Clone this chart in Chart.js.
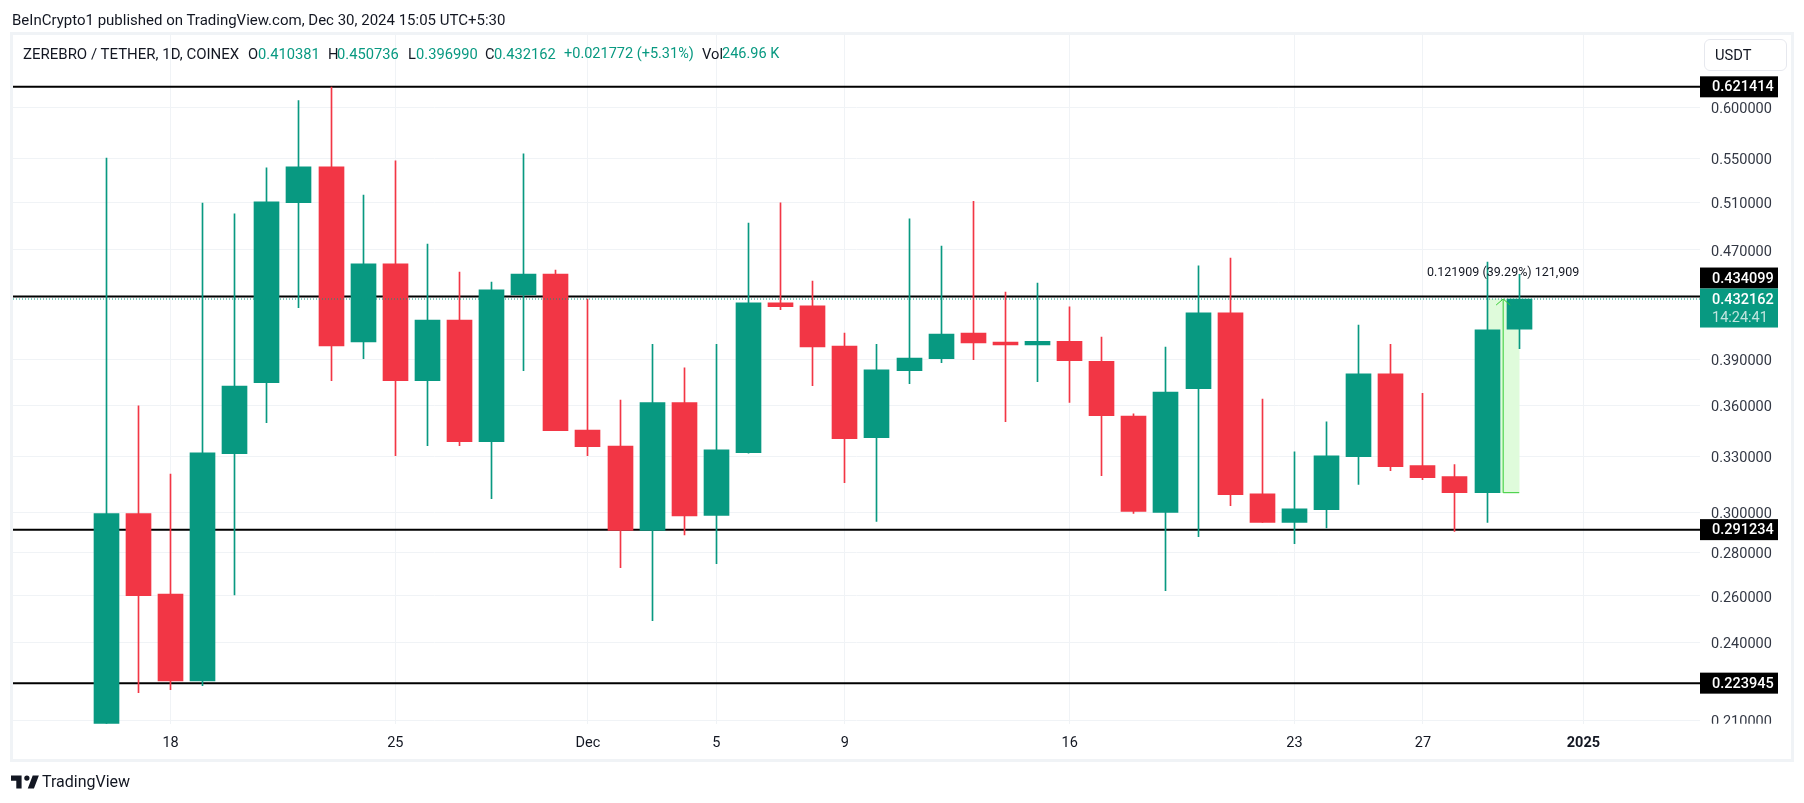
<!DOCTYPE html>
<html>
<head>
<meta charset="utf-8">
<title>ZEREBRO / TETHER</title>
<script src="https://cdn.jsdelivr.net/npm/chart.js@4/dist/chart.umd.min.js"></script>
<style>
    body { margin: 0; background: #fff; width: 1804px; height: 803px; overflow: hidden; position: relative; font-family: Roboto, sans-serif; color: #131722; }
    #frame { position: absolute; left: 10px; top: 32px; width: 1778px; height: 724px; border: 3px solid #f0f3f6; }
    #chart { position: absolute; left: 0; top: 0; }
    .t { position: absolute; white-space: nowrap; font-size: 14.7px; line-height: 18px; }
    .up { color: #089981; }
    #usdt { position: absolute; left: 1704px; top: 39px; width: 81px; height: 30px; border: 1px solid #e6e8ee; border-radius: 6px; }
    #logo { position: absolute; left: 11px; top: 772px; }
</style>
</head>
<body>
<div id="frame"></div>
<canvas id="chart" width="1804" height="803"></canvas>

<div class="t" style="left:12px;top:11px;font-size:15px">BeInCrypto1 published on TradingView.com, Dec 30, 2024 15:05 UTC+5:30</div>
<div class="t" style="left:23px;top:45px;font-size:15px">ZEREBRO / TETHER, 1D, COINEX</div>
<div class="t" style="left:248px;top:45px">O</div><div class="t up" style="left:258px;top:45px">0.410381</div>
<div class="t" style="left:328px;top:45px">H</div><div class="t up" style="left:337px;top:45px">0.450736</div>
<div class="t" style="left:408px;top:45px">L</div><div class="t up" style="left:416px;top:45px">0.396990</div>
<div class="t" style="left:485px;top:45px">C</div><div class="t up" style="left:494px;top:45px">0.432162</div>
<div class="t up" style="left:564px;top:45px;font-size:14.5px">+0.021772 (+5.31%)</div>
<div class="t" style="left:702px;top:45px">Vol</div><div class="t up" style="left:722px;top:45px;font-size:14.5px">246.96 K</div>

<div id="usdt"></div>
<div class="t" style="left:1715px;top:46px">USDT</div>

<svg id="logo" width="30" height="20" viewBox="2 4 34 19"><path fill="#131722" d="M14 6H2v6h6v9h6V6zm14 15h-7l5.6-15h7L28 21zm-8-9a3 3 0 1 0 0-6 3 3 0 0 0 0 6z"/></svg>
<div class="t" style="left:42px;top:773px;font-size:16px;">TradingView</div>

<script>
// Daily candles, Nov 16 to Dec 30 2024, x is days since Nov 16
const opens = [0.2000, 0.2993, 0.2608, 0.2248, 0.3316, 0.3745, 0.5097, 0.5418, 0.4016, 0.4590, 0.3758, 0.4169, 0.3386, 0.4352, 0.4511,
    0.3454, 0.3360, 0.2908, 0.3620, 0.2984, 0.3323, 0.4293, 0.4271, 0.3987, 0.3409, 0.3823, 0.3902, 0.4077, 0.4014, 0.3996,
    0.4020, 0.3885, 0.3537, 0.2999, 0.3707, 0.4220, 0.3096, 0.2948, 0.3014, 0.3300, 0.3802, 0.3250, 0.3189, 0.3103, 0.410381];
const highs = [0.5500, 0.3600, 0.3203, 0.5092, 0.4999, 0.5409, 0.6069, 0.6212, 0.5164, 0.5474, 0.4748, 0.4526, 0.4449, 0.5540, 0.4542,
    0.4322, 0.3636, 0.4000, 0.3841, 0.4000, 0.4922, 0.5094, 0.4457, 0.4077, 0.4000, 0.4957, 0.4732, 0.5108, 0.4374, 0.4442,
    0.4264, 0.4049, 0.3550, 0.3980, 0.4574, 0.4636, 0.3642, 0.3327, 0.3502, 0.4133, 0.4000, 0.3678, 0.3255, 0.4603, 0.450736];
const lows = [0.1950, 0.2203, 0.2215, 0.2230, 0.2604, 0.3498, 0.4258, 0.3758, 0.3902, 0.3306, 0.3362, 0.3362, 0.3071, 0.3823, 0.3450,
    0.3306, 0.2729, 0.2492, 0.2886, 0.2748, 0.3320, 0.4244, 0.3726, 0.3156, 0.2953, 0.3739, 0.3876, 0.3895, 0.3503, 0.3751,
    0.3620, 0.3194, 0.2994, 0.2624, 0.2878, 0.3034, 0.2948, 0.2843, 0.2921, 0.3146, 0.3221, 0.3172, 0.2903, 0.2948, 0.396990];
const closes = [0.2994, 0.2601, 0.2248, 0.3321, 0.3724, 0.5103, 0.5418, 0.3989, 0.4590, 0.3758, 0.4169, 0.3386, 0.4390, 0.4511, 0.3450,
    0.3356, 0.2908, 0.3620, 0.2982, 0.3338, 0.4293, 0.4266, 0.3982, 0.3403, 0.3828, 0.3906, 0.4070, 0.4009, 0.3996, 0.4020,
    0.3889, 0.3540, 0.3004, 0.3686, 0.4220, 0.3092, 0.2948, 0.3018, 0.3304, 0.3802, 0.3244, 0.3183, 0.3103, 0.4100, 0.432162];

const priceTicks = [0.6, 0.55, 0.51, 0.47, 0.39, 0.36, 0.33, 0.30, 0.28, 0.26, 0.24, 0.21];
const dateTicks = [2, 9, 15, 19, 23, 30, 37, 41, 46];
const dateLabels = ['18', '25', 'Dec', '5', '9', '16', '23', '27', '2025'];
const boldDate = 46;

const levels = [0.621414, 0.434099, 0.291234, 0.223945];
const lastPrice = 0.432162;
const countdown = '14:24:41';

// Long position measure drawn on the last two candles
const measureFrom = 43;
const measureTo = 44;
const measureLow = 0.310253;
const measureHigh = 0.432162;
const measureText = '0.121909 (39.29%) 121,909';

const UP = '#089981';
const DOWN = '#f23645';
const MEASURE = '#33cc33';
const GRID = '#f0f3f6';
const TEXT = '#333844';
const FONT = 'Roboto, sans-serif';

const xMin = -2.906;
const xMax = 49.63;

function candleColor(i) {
    return closes[i] >= opens[i] ? UP : DOWN;
}

// bars land on fractional pixels, snap them so wicks stay one pixel wide
const snapPlugin = {
    id: 'snap',
    beforeDatasetDraw(chart, args) {
        if (args.index > 1) return;
        args.meta.data.forEach(bar => {
            bar.x = Math.floor(bar.x) + 0.5;
        });
    }
};

const overlayPlugin = {
    id: 'overlay',
    afterDraw(chart) {
        const ctx = chart.ctx;
        const area = chart.chartArea;
        const x = chart.scales.x;
        const y = chart.scales.y;

        // price labels are cut off where the time axis begins
        ctx.save();
        ctx.fillStyle = '#fff';
        ctx.fillRect(area.right, area.bottom, 88, 10);

        // arrow head and measure text
        const mx = x.getPixelForValue((measureFrom + measureTo) / 2);
        const my = y.getPixelForValue(measureHigh);
        ctx.strokeStyle = MEASURE;
        ctx.lineWidth = 1;
        ctx.beginPath();
        ctx.moveTo(mx - 7, my + 6);
        ctx.lineTo(mx, my);
        ctx.lineTo(mx + 7, my + 6);
        ctx.stroke();

        ctx.fillStyle = '#131722';
        ctx.font = '12.5px ' + FONT;
        ctx.textAlign = 'center';
        ctx.textBaseline = 'middle';
        ctx.fillText(measureText, mx, my - 26);

        // price tags on the axis
        const tagX = area.right;
        const tagW = 78;
        const lastY = y.getPixelForValue(lastPrice);
        ctx.textAlign = 'left';
        ctx.font = '500 14.5px ' + FONT;
        levels.forEach(level => {
            let py = y.getPixelForValue(level);
            if (Math.abs(py - lastY) < 30) py = lastY - 21;
            ctx.fillStyle = '#000';
            ctx.fillRect(tagX, py - 10.5, tagW, 21);
            ctx.fillStyle = '#fff';
            ctx.fillText(level.toFixed(6), tagX + 12, py + 1);
        });
        ctx.fillStyle = UP;
        ctx.fillRect(tagX, lastY - 10.5, tagW, 39);
        ctx.fillStyle = '#fff';
        ctx.fillText(lastPrice.toFixed(6), tagX + 12, lastY + 1);
        ctx.font = '14.5px ' + FONT;
        ctx.fillStyle = 'rgba(255, 255, 255, 0.75)';
        ctx.fillText(countdown, tagX + 12, lastY + 19);
        ctx.restore();
    }
};

new Chart(document.getElementById('chart'), {
    type: 'bar',
    data: {
        datasets: [
            // candle bodies
            {
                data: opens.map((o, i) => ({ x: i, y: [Math.min(o, closes[i]), Math.max(o, closes[i])] })),
                backgroundColor: opens.map((o, i) => candleColor(i)),
                barThickness: 25,
                grouped: false,
                order: 2
            },
            // wicks
            {
                data: lows.map((l, i) => ({ x: i, y: [l, highs[i]] })),
                backgroundColor: lows.map((l, i) => candleColor(i)),
                barThickness: 1,
                grouped: false,
                order: 3
            },
            // measure box
            {
                data: [{ x: (measureFrom + measureTo) / 2, y: [measureLow, measureHigh] }],
                backgroundColor: '#dffbdb',
                barThickness: 32,
                grouped: false,
                order: 5
            },
            {
                type: 'line',
                data: [{ x: (measureFrom + measureTo) / 2, y: measureLow }, { x: (measureFrom + measureTo) / 2, y: measureHigh }],
                borderColor: MEASURE,
                borderWidth: 1,
                pointRadius: 0,
                order: 4
            },
            {
                type: 'line',
                data: [{ x: (measureFrom + measureTo) / 2, y: measureLow }, { x: measureTo, y: measureLow }],
                borderColor: MEASURE,
                borderWidth: 1,
                pointRadius: 0,
                order: 4
            },
            // last price, dotted, above the candles
            {
                type: 'line',
                data: [{ x: xMin, y: lastPrice }, { x: xMax, y: lastPrice }],
                borderColor: UP,
                borderWidth: 1,
                borderDash: [1, 2],
                pointRadius: 0,
                order: 1
            },
            // support and resistance levels, behind the candles
            ...levels.map(level => ({
                type: 'line',
                data: [{ x: xMin, y: level }, { x: xMax, y: level }],
                borderColor: '#000',
                borderWidth: 2,
                pointRadius: 0,
                order: 6
            }))
        ]
    },
    options: {
        responsive: false,
        animation: false,
        layout: { padding: { left: 13, top: 34, right: 0, bottom: 0 } },
        plugins: {
            legend: { display: false },
            tooltip: { enabled: false }
        },
        scales: {
            x: {
                type: 'linear',
                min: xMin,
                max: xMax,
                bounds: 'data',
                offset: false,
                grid: { color: GRID, offset: false, drawTicks: false },
                border: { display: false },
                afterFit(scale) { scale.height = 79.3; },
                afterBuildTicks(scale) { scale.ticks = dateTicks.map(v => ({ value: v })); },
                ticks: {
                    autoSkip: false,
                    maxRotation: 0,
                    padding: 11,
                    color: '#131722',
                    font: ctx => ({
                        family: FONT,
                        size: 14.5,
                        weight: ctx.tick && ctx.tick.value === boldDate ? 'bold' : 'normal'
                    }),
                    callback: value => dateLabels[dateTicks.indexOf(value)]
                }
            },
            y: {
                type: 'logarithmic',
                position: 'right',
                min: 0.20893,
                max: 0.6802,
                bounds: 'data',
                grid: { color: GRID, drawTicks: false },
                border: { display: false },
                afterFit(scale) { scale.width = 104; },
                afterBuildTicks(scale) { scale.ticks = priceTicks.map(v => ({ value: v })); },
                ticks: {
                    autoSkip: false,
                    padding: 11,
                    labelOffset: 2,
                    color: TEXT,
                    font: { family: FONT, size: 14.5 },
                    callback: value => Number(value).toFixed(6)
                }
            }
        }
    },
    plugins: [snapPlugin, overlayPlugin]
});
</script>
</body>
</html>
